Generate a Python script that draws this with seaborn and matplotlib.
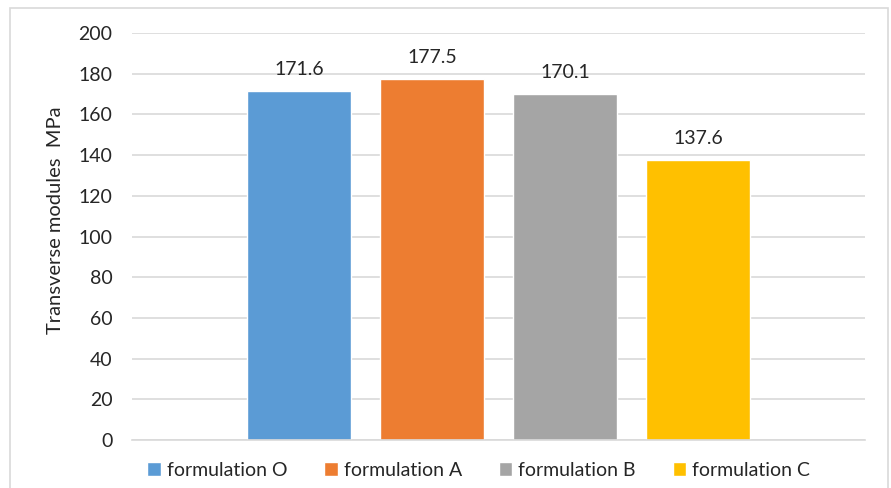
import pandas as pd
import seaborn as sns
import matplotlib.pyplot as plt
from matplotlib.patches import Rectangle

# Chart data
series = ['formulation O', 'formulation A', 'formulation B', 'formulation C']
values = [171.6, 177.5, 170.1, 137.6]
colors = ['#5B9BD5', '#ED7D31', '#A5A5A5', '#FFC000']
yticks = [0, 20, 40, 60, 80, 100, 120, 140, 160, 180, 200]

df = pd.DataFrame({'group': ['all'] * len(series), 'series': series, 'value': values})

sns.set_style("white")
plt.rcParams['font.family'] = ['Lato', 'DejaVu Sans']

fig = plt.figure(figsize=(8.91, 4.88), dpi=100)
ax = fig.add_axes([132 / 891, 1 - 440 / 488, (865 - 132) / 891, (440 - 33) / 488])

sns.barplot(data=df, x='group', y='value', hue='series', palette=colors,
            width=0.7257, gap=0.22, saturation=1, ax=ax, legend=True)

ax.set_xlim(-0.5, 0.5)
ax.set_ylim(0, 200)
ax.set_yticks(yticks)
ax.set_xticks([])
ax.set_xlabel('')
ax.set_ylabel('Transverse modules  MPa', fontsize=14.5)
ax.yaxis.set_label_coords(-0.093, 0.54)
ax.tick_params(axis='y', labelsize=14, length=0, pad=14)

# Light gridlines, bottom axis only
ax.grid(axis='y', color='#d9d9d9', linewidth=1.2)
ax.set_axisbelow(True)
for side in ['top', 'right', 'left']:
    ax.spines[side].set_visible(False)
ax.spines['bottom'].set_color('#d9d9d9')
ax.spines['bottom'].set_linewidth(1.2)

for cont in ax.containers:
    ax.bar_label(cont, fmt='%.1f', padding=9, fontsize=14)

ax.legend(loc='upper center', bbox_to_anchor=(0.473, -0.01), ncol=4, frameon=False,
          fontsize=14, handlelength=0.7, handleheight=0.7, handletextpad=0.3,
          columnspacing=1.9)

# Outer chart border
fig.patches.append(Rectangle((10 / 891, -0.01), 878 / 891, 1 - 8 / 488 + 0.01,
                             transform=fig.transFigure, fill=False,
                             edgecolor='#d9d9d9', linewidth=1.2))

fig.savefig('out.png', dpi=100)
